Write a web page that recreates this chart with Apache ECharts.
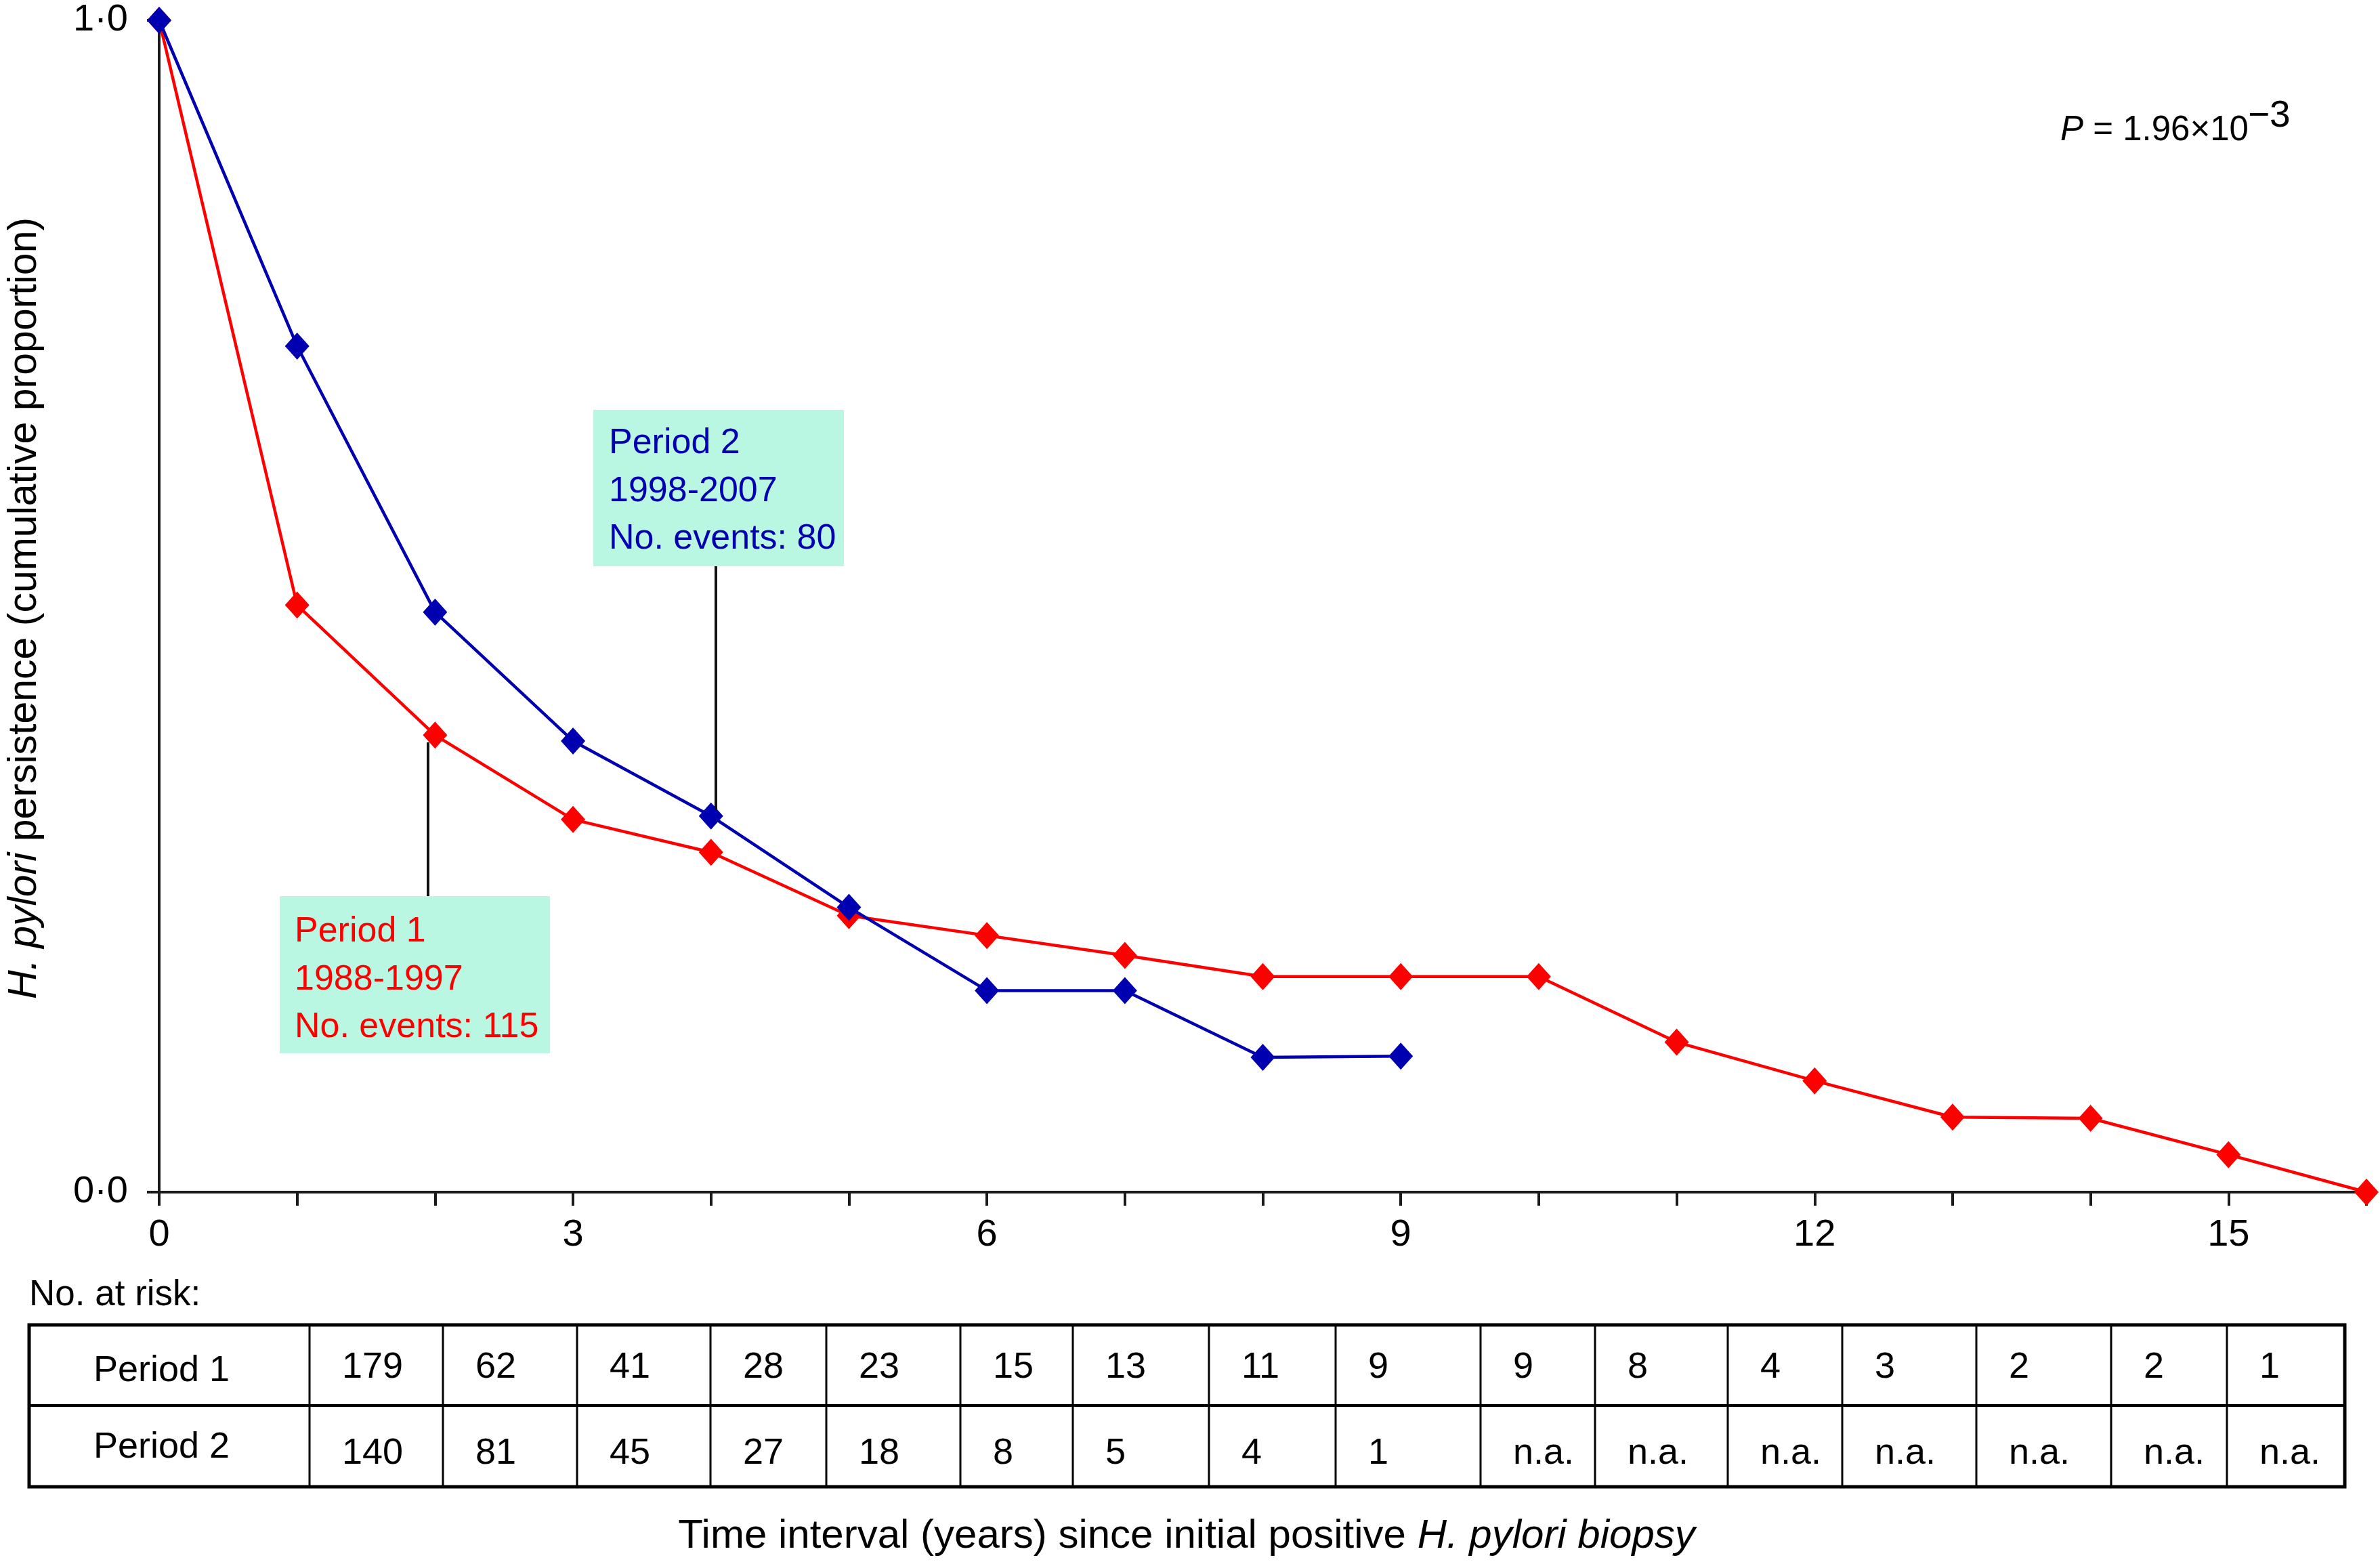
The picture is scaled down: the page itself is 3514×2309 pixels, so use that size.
<!DOCTYPE html>
<html>
<head>
<meta charset="utf-8">
<script src="https://cdn.jsdelivr.net/npm/echarts@6/dist/echarts.min.js"></script>
<style>
html,body{margin:0;padding:0;background:#fff;}
#chart{width:3514px;height:2309px;}
</style>
</head>
<body>
<div id="chart"></div>
<script>
// ---- data ----
const years = [0,1,2,3,4,5,6,7,8,9,10,11,12,13,14,15,16];
const period1Persistence = [1.0, 0.501, 0.390, 0.318, 0.290, 0.236, 0.219, 0.202, 0.184, 0.184, 0.184, 0.128, 0.095, 0.064, 0.063, 0.032, 0.0];
const period2Persistence = [1.0, 0.722, 0.495, 0.385, 0.321, 0.243, 0.172, 0.172, 0.115, 0.116];
const xTickLabels = [0, 3, 6, 9, 12, 15];
const yTickLabels = [0, 1];
const rowLabels = ['Period 1', 'Period 2'];
const period1AtRisk = ['179','62','41','28','23','15','13','11','9','9','8','4','3','2','2','1'];
const period2AtRisk = ['140','81','45','27','18','8','5','4','1','n.a.','n.a.','n.a.','n.a.','n.a.','n.a.','n.a.'];
const period1Note = ['Period 1', '1988-1997', 'No. events: 115'];
const period2Note = ['Period 2', '1998-2007', 'No. events: 80'];

// ---- styling / layout ----
const FONT = "'Liberation Sans', Arial, Helvetica, sans-serif";
const RED = '#FF0000';
const BLUE = '#0000B0';
const MINT = '#B9F7E2';
const AXIS = '#1a1a1a';
const colBounds = [43, 457, 654, 852, 1049, 1220, 1418, 1584, 1785, 1972, 2186, 2355, 2551, 2720, 2918, 3117, 3288, 3462];
const rowBounds = [1956, 2075, 2195];

const chart = echarts.init(document.getElementById('chart'), null, {renderer: 'canvas'});

const graphic = [];
// Y axis title
graphic.push({
  type: 'text', x: 37, y: 898, rotation: Math.PI / 2,
  style: {
    text: '{i|H. pylori} persistence (cumulative proportion)',
    rich: { i: { fontStyle: 'italic', fontSize: 59, fontFamily: FONT, fill: '#000' } },
    fontSize: 59, fontFamily: FONT, fill: '#000', align: 'center', verticalAlign: 'middle'
  }
});
// X axis title
graphic.push({
  type: 'text', x: 1752, y: 2268,
  style: {
    text: 'Time interval (years) since initial positive {i|H. pylori biopsy}',
    rich: { i: { fontStyle: 'italic', fontSize: 60, fontFamily: FONT, fill: '#000' } },
    fontSize: 60, fontFamily: FONT, fill: '#000', align: 'center', verticalAlign: 'middle'
  }
});
// No. at risk
graphic.push({
  type: 'text', x: 43, y: 1912,
  style: { text: 'No. at risk:', fontSize: 53, fontFamily: FONT, fill: '#000', align: 'left', verticalAlign: 'middle' }
});
// Table grid
graphic.push({
  type: 'rect',
  shape: { x: colBounds[0], y: rowBounds[0], width: colBounds[colBounds.length - 1] - colBounds[0], height: rowBounds[2] - rowBounds[0] },
  style: { fill: 'none', stroke: '#000', lineWidth: 5 }
});
graphic.push({
  type: 'line',
  shape: { x1: colBounds[0], y1: rowBounds[1], x2: colBounds[colBounds.length - 1], y2: rowBounds[1] },
  style: { stroke: '#000', lineWidth: 4 }
});
for (let i = 1; i < colBounds.length - 1; i++) {
  graphic.push({
    type: 'line',
    shape: { x1: colBounds[i], y1: rowBounds[0], x2: colBounds[i], y2: rowBounds[2] },
    style: { stroke: '#000', lineWidth: 3 }
  });
}
const labelY = [2024, 2137];
const valueY = [2019, 2146];
[period1AtRisk, period2AtRisk].forEach((row, r) => {
  graphic.push({
    type: 'text', x: 138, y: labelY[r],
    style: { text: rowLabels[r], fontSize: 54, fontFamily: FONT, fill: '#000', align: 'left', verticalAlign: 'middle' }
  });
  row.forEach((v, c) => {
    graphic.push({
      type: 'text', x: colBounds[c + 1] + 48, y: valueY[r],
      style: { text: v, fontSize: 54, fontFamily: FONT, fill: '#000', align: 'left', verticalAlign: 'middle' }
    });
  });
});
// Annotation boxes
function note(box, lines, color, textX, firstY) {
  graphic.push({ type: 'rect', shape: box, style: { fill: MINT }, z: 5 });
  lines.forEach((t, i) => {
    graphic.push({
      type: 'text', x: textX, y: firstY + i * 70.5, z: 6,
      style: { text: t, fontSize: 52, fontFamily: FONT, fill: color, align: 'left', verticalAlign: 'middle' }
    });
  });
}
note({ x: 876, y: 605, width: 370, height: 231 }, period2Note, BLUE, 899, 655);
note({ x: 413, y: 1323, width: 399, height: 232 }, period1Note, RED, 435, 1376);
// Leader lines
graphic.push({ type: 'line', shape: { x1: 1057, y1: 836, x2: 1057, y2: 1195 }, style: { stroke: '#111', lineWidth: 4 }, z: 4 });
graphic.push({ type: 'line', shape: { x1: 632, y1: 1096, x2: 632, y2: 1323 }, style: { stroke: '#111', lineWidth: 4 }, z: 4 });
// P value
graphic.push({
  type: 'text', x: 3042, y: 193,
  style: {
    text: '{i|P} = 1.96×10',
    rich: { i: { fontStyle: 'italic', fontSize: 51, fontFamily: FONT, fill: '#000' } },
    fontSize: 51, fontFamily: FONT, fill: '#000', align: 'left', verticalAlign: 'middle'
  }
});
graphic.push({
  type: 'text', x: 3319, y: 172,
  style: { text: '−3', fontSize: 55, fontFamily: FONT, fill: '#000', align: 'left', verticalAlign: 'middle' }
});

const option = {
  backgroundColor: '#fff',
  animation: false,
  grid: { left: 235, right: 20, top: 30, bottom: 549, containLabel: false },
  xAxis: {
    type: 'value', min: 0, max: 16, interval: 1,
    axisLine: { show: true, lineStyle: { color: AXIS, width: 4 } },
    axisTick: { show: true, length: 20, lineStyle: { color: AXIS, width: 4 } },
    splitLine: { show: false },
    axisLabel: {
      margin: 36, fontSize: 56, fontFamily: FONT, color: '#000',
      formatter: v => xTickLabels.indexOf(v) >= 0 ? String(v) : ''
    }
  },
  yAxis: {
    type: 'value', min: 0, max: 1, interval: 1,
    axisLine: { show: true, lineStyle: { color: AXIS, width: 4 } },
    axisTick: { show: true, length: 18, lineStyle: { color: AXIS, width: 4 } },
    splitLine: { show: false },
    axisLabel: {
      margin: 46, fontSize: 56, fontFamily: FONT, color: '#000',
      formatter: v => yTickLabels.indexOf(v) >= 0 ? v.toFixed(1).replace('.', '·') : ''
    }
  },
  series: [
    {
      name: 'Period 1', type: 'line', clip: false,
      data: period1Persistence.map((v, i) => [years[i], v]),
      symbol: 'diamond', symbolSize: [36, 40],
      lineStyle: { color: RED, width: 4.5 },
      itemStyle: { color: RED },
      z: 2
    },
    {
      name: 'Period 2', type: 'line', clip: false,
      data: period2Persistence.map((v, i) => [years[i], v]),
      symbol: 'diamond', symbolSize: [36, 40],
      lineStyle: { color: BLUE, width: 4.5 },
      itemStyle: { color: BLUE },
      z: 3
    }
  ],
  graphic: graphic
};
chart.setOption(option);
</script>
</body>
</html>
